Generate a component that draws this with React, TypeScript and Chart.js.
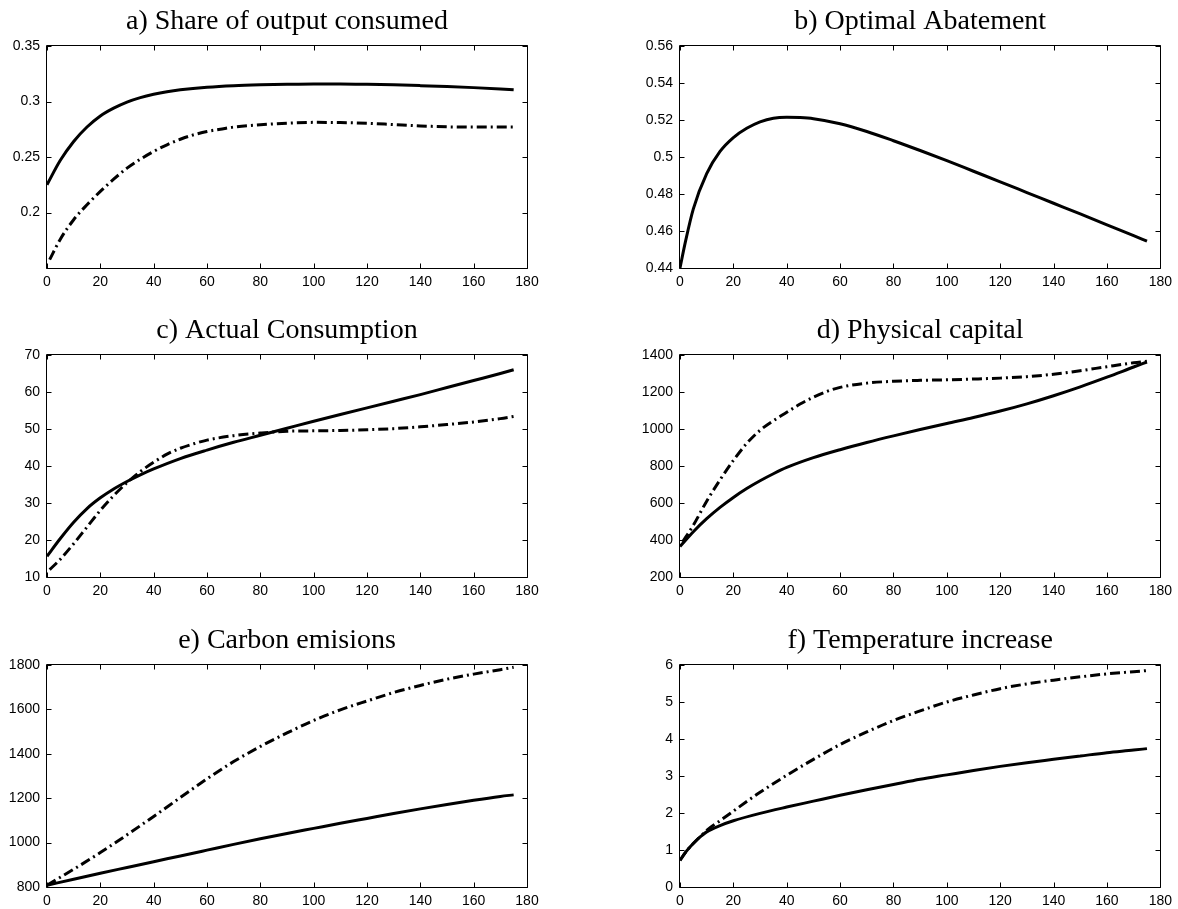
import React, { useEffect, useRef } from "react";
import { Chart, registerables } from "chart.js";

Chart.register(...registerables);

// ---------- data ----------
const xTicksMax = 180;

// a) Share of output consumed
const tShareSolid = [0, 5, 10, 15, 20, 25, 30, 35, 40, 45, 50, 60, 70, 80, 90, 100, 110, 120, 130, 140, 150, 160, 170, 175];
const shareSolid = [0.225, 0.247, 0.264, 0.277, 0.287, 0.294, 0.2995, 0.3035, 0.3065, 0.3088, 0.3105, 0.3128, 0.3142, 0.315, 0.3155, 0.3158, 0.3158, 0.3155, 0.315, 0.3143, 0.3135, 0.3125, 0.3113, 0.3105];
const tShareDash = [1, 5, 10, 15, 20, 25, 30, 35, 40, 45, 50, 55, 60, 65, 70, 80, 90, 100, 110, 120, 130, 140, 150, 160, 170, 175];
const shareDash = [0.1575, 0.176, 0.1935, 0.207, 0.219, 0.23, 0.24, 0.248, 0.255, 0.261, 0.266, 0.27, 0.273, 0.275, 0.277, 0.279, 0.2805, 0.2812, 0.281, 0.2804, 0.2792, 0.278, 0.2772, 0.277, 0.277, 0.277];

// b) Optimal Abatement
const tAbate = [0, 2, 5, 10, 15, 20, 25, 30, 35, 40, 45, 50, 60, 70, 80, 90, 100, 110, 120, 130, 140, 150, 160, 170, 175];
const abate = [0.44, 0.454, 0.472, 0.491, 0.503, 0.5105, 0.5155, 0.519, 0.521, 0.5215, 0.5213, 0.5207, 0.518, 0.5138, 0.5088, 0.5035, 0.498, 0.4923, 0.4866, 0.4808, 0.475, 0.4692, 0.4633, 0.4575, 0.4545];

// c) Actual Consumption
const tConsSolid = [0, 5, 10, 15, 20, 25, 30, 35, 40, 50, 60, 70, 80, 90, 100, 110, 120, 130, 140, 150, 160, 170, 175];
const consSolid = [15.6, 20.4, 24.8, 28.5, 31.4, 33.8, 35.8, 37.6, 39.2, 42.0, 44.3, 46.4, 48.3, 50.2, 52.1, 53.9, 55.7, 57.5, 59.3, 61.2, 63.1, 65.0, 66.0];
const tConsDash = [1, 5, 10, 15, 20, 25, 30, 35, 40, 45, 50, 55, 60, 70, 80, 90, 100, 110, 120, 130, 140, 150, 160, 170, 175];
const consDash = [12.0, 14.8, 19.0, 23.5, 28.0, 32.0, 35.5, 38.5, 41.0, 43.2, 44.8, 46.0, 47.0, 48.2, 48.9, 49.4, 49.5, 49.6, 49.8, 50.1, 50.6, 51.2, 51.9, 52.8, 53.4];

// d) Physical capital
const tCapSolid = [0, 5, 10, 15, 20, 25, 30, 35, 40, 50, 60, 70, 80, 90, 100, 110, 120, 130, 140, 150, 160, 170, 175];
const capSolid = [365, 445, 515, 576, 630, 678, 720, 758, 792, 845, 888, 927, 963, 997, 1030, 1062, 1097, 1136, 1180, 1228, 1280, 1335, 1362];
const tCapDash = [1, 5, 10, 15, 20, 25, 30, 35, 40, 45, 50, 55, 60, 70, 80, 90, 100, 110, 120, 130, 140, 150, 160, 170, 175];
const capDash = [390, 480, 610, 725, 830, 922, 993, 1045, 1090, 1135, 1172, 1203, 1225, 1248, 1258, 1263, 1266, 1270, 1275, 1283, 1296, 1315, 1337, 1358, 1366];

// e) Carbon emisions
const tEmSolid = [0, 10, 20, 30, 40, 50, 60, 70, 80, 90, 100, 110, 120, 130, 140, 150, 160, 170, 175];
const emSolid = [808, 835, 862, 888, 914, 940, 966, 992, 1017, 1041, 1064, 1087, 1109, 1131, 1152, 1172, 1191, 1208, 1215];
const tEmDash = [0, 10, 20, 30, 40, 50, 60, 70, 80, 90, 100, 110, 120, 130, 140, 150, 160, 170, 175];
const emDash = [808, 880, 955, 1035, 1118, 1203, 1287, 1365, 1433, 1494, 1550, 1598, 1638, 1676, 1708, 1736, 1759, 1779, 1790];

// f) Temperature increase
const tTempSolid = [0, 2, 4, 6, 8, 10, 15, 20, 30, 40, 50, 60, 70, 80, 90, 100, 110, 120, 130, 140, 150, 160, 170, 175];
const tempSolid = [0.72, 0.93, 1.1, 1.25, 1.38, 1.49, 1.66, 1.79, 1.99, 2.16, 2.32, 2.48, 2.63, 2.77, 2.91, 3.03, 3.15, 3.26, 3.36, 3.45, 3.54, 3.63, 3.7, 3.74];
const tTempDash = [0, 2, 4, 6, 8, 10, 15, 20, 25, 30, 40, 50, 60, 70, 80, 90, 100, 110, 120, 130, 140, 150, 160, 170, 175];
const tempDash = [0.72, 0.93, 1.1, 1.25, 1.39, 1.53, 1.79, 2.05, 2.31, 2.56, 3.02, 3.45, 3.85, 4.19, 4.5, 4.76, 5.0, 5.19, 5.36, 5.49, 5.59, 5.68, 5.76, 5.82, 5.85];

// ---------- layout ----------
type Series = { xs: number[]; ys: number[]; dash: boolean };
type PanelCfg = {
  title: string;
  left: number;
  top: number;
  width: number;
  yWidth: number;
  padRight: number;
  yMin: number;
  yMax: number;
  yStep: number;
  hideLabels?: number[];
  series: Series[];
};

const CANVAS_H = 300;
const PLOT_TOP = 46;
const PLOT_BOTTOM = 268;
const LEFT_COL = { left: 0, width: 560, yWidth: 47, padRight: 33 };
const RIGHT_COL = { left: 590, width: 588, yWidth: 90, padRight: 17 };
const ROW_TOPS = [0, 309, 619];

const panels: PanelCfg[] = [
  { title: "a) Share of output consumed", ...LEFT_COL, top: ROW_TOPS[0], yMin: 0.15, yMax: 0.35, yStep: 0.05, hideLabels: [0.15],
    series: [{ xs: tShareSolid, ys: shareSolid, dash: false }, { xs: tShareDash, ys: shareDash, dash: true }] },
  { title: "b) Optimal Abatement", ...RIGHT_COL, top: ROW_TOPS[0], yMin: 0.44, yMax: 0.56, yStep: 0.02,
    series: [{ xs: tAbate, ys: abate, dash: false }] },
  { title: "c) Actual Consumption", ...LEFT_COL, top: ROW_TOPS[1], yMin: 10, yMax: 70, yStep: 10,
    series: [{ xs: tConsSolid, ys: consSolid, dash: false }, { xs: tConsDash, ys: consDash, dash: true }] },
  { title: "d) Physical capital", ...RIGHT_COL, top: ROW_TOPS[1], yMin: 200, yMax: 1400, yStep: 200,
    series: [{ xs: tCapSolid, ys: capSolid, dash: false }, { xs: tCapDash, ys: capDash, dash: true }] },
  { title: "e) Carbon emisions", ...LEFT_COL, top: ROW_TOPS[2], yMin: 800, yMax: 1800, yStep: 200,
    series: [{ xs: tEmSolid, ys: emSolid, dash: false }, { xs: tEmDash, ys: emDash, dash: true }] },
  { title: "f) Temperature increase", ...RIGHT_COL, top: ROW_TOPS[2], yMin: 0, yMax: 6, yStep: 1,
    series: [{ xs: tTempSolid, ys: tempSolid, dash: false }, { xs: tTempDash, ys: tempDash, dash: true }] },
];

const TICK_LEN = 5;

const framePlugin = {
  id: "matlabFrame",
  afterDraw(chart: any) {
    const { ctx, chartArea: a, scales } = chart;
    const xs = scales.x;
    const ys = scales.y;
    const L = Math.round(a.left) - 0.5;
    const R = Math.round(a.right) + 0.5;
    const T = Math.round(a.top) - 0.5;
    const B = Math.round(a.bottom) + 0.5;
    ctx.save();
    ctx.strokeStyle = "#000";
    ctx.lineWidth = 1;
    ctx.setLineDash([]);
    ctx.beginPath();
    ctx.rect(L, T, R - L, B - T);
    for (const t of xs.ticks) {
      const px = Math.round(xs.getPixelForValue(t.value)) + 0.5;
      ctx.moveTo(px, B);
      ctx.lineTo(px, B - TICK_LEN);
      ctx.moveTo(px, T);
      ctx.lineTo(px, T + TICK_LEN);
    }
    for (const t of ys.ticks) {
      const py = Math.round(ys.getPixelForValue(t.value)) + 0.5;
      ctx.moveTo(L, py);
      ctx.lineTo(L + TICK_LEN, py);
      ctx.moveTo(R, py);
      ctx.lineTo(R - TICK_LEN, py);
    }
    ctx.stroke();
    ctx.restore();
  },
};

function fmt(v: number): string {
  return String(parseFloat(v.toFixed(6)));
}

function Panel({ cfg }: { cfg: PanelCfg }) {
  const ref = useRef<HTMLCanvasElement | null>(null);
  useEffect(() => {
    if (!ref.current) return;
    const chart = new Chart(ref.current, {
      type: "line",
      data: {
        datasets: cfg.series.map((s) => ({
          data: s.xs.map((x, i) => ({ x, y: s.ys[i] })),
          borderColor: "#000",
          backgroundColor: "#000",
          borderWidth: 3,
          borderDash: s.dash ? [10, 4, 2, 4] : [],
          borderCapStyle: "butt",
          borderJoinStyle: "round",
          pointRadius: 0,
          fill: false,
          cubicInterpolationMode: "monotone",
        })),
      },
      options: {
        animation: false,
        responsive: false,
        devicePixelRatio: 1,
        events: [],
        layout: { padding: { left: 0, right: cfg.padRight, top: 0, bottom: 0 } },
        plugins: {
          legend: { display: false },
          tooltip: { enabled: false },
          title: {
            display: true,
            text: cfg.title,
            fullSize: false,
            color: "#000",
            font: { family: "'Liberation Serif', 'Times New Roman', serif", size: 28, weight: "normal", lineHeight: 1.2 },
            padding: { top: 5, bottom: PLOT_TOP - 5 - 28 * 1.2 },
          },
        },
        scales: {
          x: {
            type: "linear",
            min: 0,
            max: xTicksMax,
            grid: { display: false, drawTicks: false },
            border: { display: false },
            ticks: {
              stepSize: 20,
              autoSkip: false,
              maxRotation: 0,
              padding: 6,
              color: "#000",
              font: { family: "'Liberation Sans', Arial, sans-serif", size: 14 },
              callback: (v: any) => fmt(Number(v)),
            },
            afterFit: (scale: any) => {
              scale.height = CANVAS_H - PLOT_BOTTOM;
            },
          },
          y: {
            type: "linear",
            min: cfg.yMin,
            max: cfg.yMax,
            grid: { display: false, drawTicks: false },
            border: { display: false },
            ticks: {
              stepSize: cfg.yStep,
              autoSkip: false,
              padding: 7,
              color: "#000",
              font: { family: "'Liberation Sans', Arial, sans-serif", size: 14 },
              callback: (v: any) => {
                const n = Number(v);
                if (cfg.hideLabels && cfg.hideLabels.some((h) => Math.abs(h - n) < 1e-9)) return "";
                return fmt(n);
              },
            },
            afterFit: (scale: any) => {
              scale.width = cfg.yWidth;
            },
          },
        },
      },
      plugins: [framePlugin],
    } as any);
    return () => chart.destroy();
  }, [cfg]);
  return (
    <canvas
      ref={ref}
      width={cfg.width}
      height={CANVAS_H}
      style={{ position: "absolute", left: cfg.left, top: cfg.top, width: cfg.width, height: CANVAS_H }}
    />
  );
}

export default function App() {
  return (
    <div
      style={{
        position: "absolute",
        left: 0,
        top: 0,
        width: 1178,
        height: 909,
        overflow: "hidden",
        background: "#fff",
      }}
    >
      {panels.map((p) => (
        <Panel key={p.title} cfg={p} />
      ))}
    </div>
  );
}
